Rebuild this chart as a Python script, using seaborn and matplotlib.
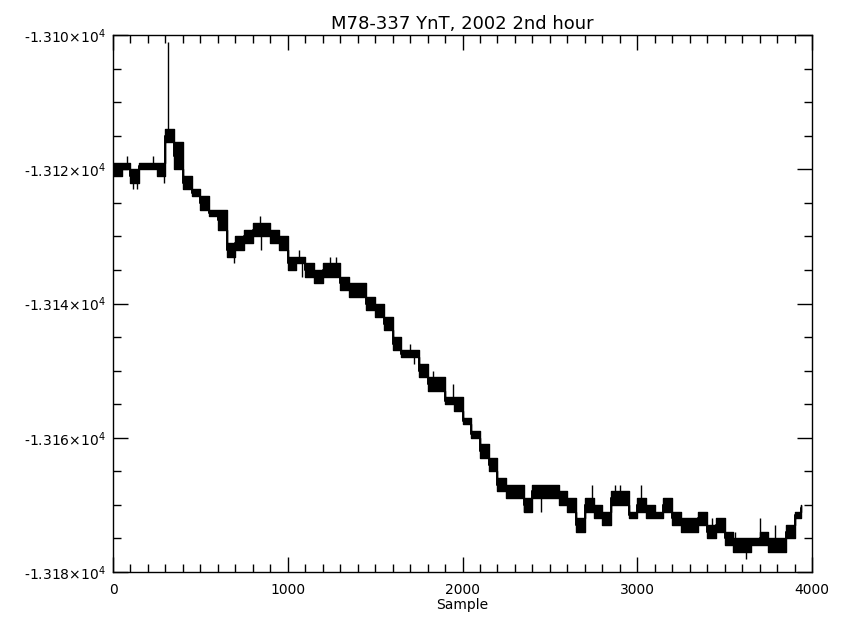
import numpy as np
import pandas as pd
import matplotlib
matplotlib.use("Agg")
import matplotlib.pyplot as plt
import seaborn as sns
from matplotlib.ticker import MultipleLocator, FixedLocator, FixedFormatter

# ---------------- data ----------------
# each block covers 50 samples starting at block_start; band_hi/band_lo are
# the upper and lower levels the signal flickers between inside the block
block_start = [0, 50, 100, 150, 200, 250, 300, 350, 400, 450,
               500, 550, 600, 650, 700, 750, 800, 850, 900, 950,
               1000, 1050, 1100, 1150, 1200, 1250, 1300, 1350, 1400, 1450,
               1500, 1550, 1600, 1650, 1700, 1750, 1800, 1850, 1900, 1950,
               2000, 2050, 2100, 2150, 2200, 2250, 2300, 2350, 2400, 2450,
               2500, 2550, 2600, 2650, 2700, 2750, 2800, 2850, 2900, 2950,
               3000, 3050, 3100, 3150, 3200, 3250, 3300, 3350, 3400, 3450,
               3500, 3550, 3600, 3650, 3700, 3750, 3800, 3850, 3900, 3935]
band_hi = [-13119, -13119, -13120, -13119, -13119, -13119, -13114, -13116, -13121, -13123,
           -13124, -13126, -13126, -13131, -13130, -13129, -13128, -13128, -13129, -13130,
           -13133, -13133, -13134, -13135, -13134, -13134, -13136, -13137, -13137, -13139,
           -13140, -13142, -13145, -13147, -13147, -13149, -13151, -13151, -13154, -13154,
           -13157, -13159, -13161, -13163, -13166, -13167, -13167, -13169, -13167, -13167,
           -13167, -13168, -13169, -13172, -13169, -13170, -13171, -13168, -13168, -13171,
           -13169, -13170, -13171, -13169, -13171, -13172, -13172, -13171, -13173, -13172,
           -13174, -13175, -13175, -13175, -13174, -13175, -13175, -13173, -13171, -13170]
band_lo = [-13121, -13120, -13122, -13120, -13120, -13121, -13116, -13120, -13123, -13124,
           -13126, -13127, -13129, -13133, -13132, -13131, -13130, -13130, -13131, -13132,
           -13135, -13134, -13136, -13137, -13136, -13136, -13138, -13139, -13139, -13141,
           -13142, -13144, -13147, -13148, -13148, -13151, -13153, -13153, -13155, -13156,
           -13158, -13160, -13163, -13165, -13168, -13169, -13169, -13171, -13169, -13169,
           -13169, -13170, -13171, -13174, -13171, -13172, -13173, -13170, -13170, -13172,
           -13171, -13172, -13172, -13171, -13173, -13174, -13174, -13173, -13175, -13174,
           -13176, -13177, -13177, -13176, -13176, -13177, -13177, -13175, -13172, -13171]

# single-sample excursions (thin spikes)
spike_sample = [80, 115, 140, 230, 290, 317, 690, 840, 845, 1065, 1080, 1240,
                1275, 1340, 1700, 1720, 1830, 1945, 2350, 2450, 2670, 2740,
                2870, 2900, 3020, 3170, 3430, 3560, 3620, 3700, 3790]
spike_value = [-13118, -13123, -13123, -13118, -13122, -13101, -13134, -13127,
               -13132, -13132, -13136, -13133, -13133, -13137, -13146, -13149,
               -13150, -13152, -13171, -13171, -13174, -13167, -13167, -13167,
               -13167, -13169, -13172, -13174, -13178, -13172, -13173]

title_text = "M78-337 YnT, 2002 2nd hour"
x_label = "Sample"
x_ticks = [0, 1000, 2000, 3000, 4000]
x_tick_labels = ["0", "1000", "2000", "3000", "4000"]
y_ticks = [-13180, -13160, -13140, -13120, -13100]
y_tick_labels = ["-1.318×10$^{4}$", "-1.316×10$^{4}$", "-1.314×10$^{4}$",
                 "-1.312×10$^{4}$", "-1.310×10$^{4}$"]

# ---------------- figure ----------------
sns.set_style("white")
plt.rcParams["font.family"] = ["DejaVu Sans"]
plt.rcParams["mathtext.fontset"] = "dejavusans"
plt.rcParams["text.color"] = "black"
plt.rcParams["axes.labelcolor"] = "black"
plt.rcParams["xtick.color"] = "black"
plt.rcParams["ytick.color"] = "black"

fig = plt.figure(figsize=(8.43, 6.20), dpi=100)
ax = fig.add_axes([113 / 843, 1 - 572 / 620, (812 - 113) / 843, (572 - 35) / 620])

df = pd.DataFrame({
    "sample": block_start + block_start,
    "value": band_hi + band_lo,
})

sns.lineplot(data=df, x="sample", y="value", estimator="mean",
             errorbar=lambda v: (v.min(), v.max()),
             drawstyle="steps-post", color="black", linewidth=1.4,
             err_kws=dict(step="post", alpha=1, linewidth=1.0),
             ax=ax, legend=False)

# thin spikes drawn from the band of their block
for s, v in zip(spike_sample, spike_value):
    i = np.searchsorted(block_start, s, side="right") - 1
    base = (band_hi[i] + band_lo[i]) / 2
    ax.vlines(s, base, v, color="black", linewidth=1.0)

ax.set_xlim(0, 4000)
ax.set_ylim(-13180, -13100)

ax.xaxis.set_major_locator(FixedLocator(x_ticks))
ax.xaxis.set_major_formatter(FixedFormatter(x_tick_labels))
ax.xaxis.set_minor_locator(MultipleLocator(100))
ax.yaxis.set_major_locator(FixedLocator(y_ticks))
ax.yaxis.set_major_formatter(FixedFormatter(y_tick_labels))
ax.yaxis.set_minor_locator(MultipleLocator(5))

ax.tick_params(which="both", direction="in", top=True, right=True,
               bottom=True, left=True, color="black", labelcolor="black", width=1)
ax.tick_params(which="major", length=11, labelsize=10, pad=8)
ax.tick_params(which="minor", length=6)
ax.tick_params(axis="y", which="major", pad=5)

for sp in ax.spines.values():
    sp.set_visible(True)
    sp.set_color("black")
    sp.set_linewidth(1)

ax.set_xlabel(x_label, fontsize=10, labelpad=1, color="black")
ax.set_ylabel("")
ax.set_title(title_text, fontsize=13, pad=4, color="black")

fig.savefig("out.png", dpi=100, facecolor="white")
